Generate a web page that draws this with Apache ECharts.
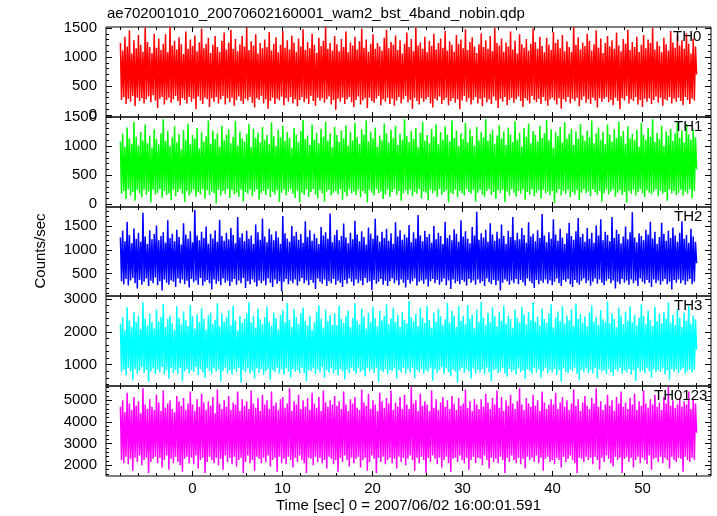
<!DOCTYPE html>
<html><head><meta charset="utf-8">
<script src="https://cdn.jsdelivr.net/npm/echarts@6/dist/echarts.min.js"></script>
<style>html,body{margin:0;padding:0;background:#fff}#c{width:717px;height:516px}</style>
</head><body><div id="c"></div>
<script>
const chartTitle = "ae702001010_20070602160001_wam2_bst_4band_nobin.qdp";
const xTitle = "Time [sec] 0 = 2007/06/02 16:00:01.591";
const yTitle = "Counts/sec";
const panelNames = ["TH0", "TH1", "TH2", "TH3", "TH0123"];
const tStart = -8, tEnd = 56;
const xRange = [-9.6, 57.6];
const xMajorTicks = [0, 10, 20, 30, 40, 50];
const xMinorStep = 2;

const yRanges = [[-34, 1517], [-46, 1500], [32, 1899], [350, 3091], [1507, 5660]];
const yMajorTicks = [
  [0, 500, 1000, 1500],
  [0, 500, 1000, 1500],
  [500, 1000, 1500],
  [1000, 2000, 3000],
  [2000, 3000, 4000, 5000]
];
const yMinorSteps = [100, 100, 100, 200, 200];

const th0 = [
1240,260,1110,310,1350,190,1180,280,1460,230,1060,330,1290,150,1150,300,
1380,240,1210,290,1090,200,1510,270,1260,320,1170,220,1070,340,1400,250,
1160,120,1320,280,1120,310,1230,180,1390,260,1080,300,1520,210,1200,270,
1280,330,1130,240,1340,170,1220,290,1050,260,1440,200,1140,310,1300,230,
1190,280,1370,100,1100,320,1250,250,1490,190,1150,300,1230,270,1330,140,
1070,290,1210,230,1360,310,1170,200,1090,270,1280,330,1420,180,1130,290,
1250,220,1470,300,1140,160,1310,260,1100,320,1220,240,1360,190,1180,280,
1500,250,1120,310,1270,210,1200,130,1390,290,1060,260,1240,330,1150,200,
1300,270,1170,110,1430,240,1110,300,1230,190,1340,280,1080,250,1210,320,
1450,170,1160,290,1290,230,1130,310,1370,200,1250,270,1090,150,1320,260,
1180,310,1480,220,1120,280,1260,190,1150,330,1400,240,1210,160,1070,300,
1330,250,1190,290,1280,210,1520,270,1140,320,1240,180,1110,260,1360,90,
1220,280,1100,230,1310,300,1170,190,1440,270,1080,310,1250,220,1200,140,
1350,260,1130,320,1270,180,1490,250,1160,290,1300,120,1090,300,1230,240,
1390,210,1140,280,1240,330,1180,170,1110,270,1330,230,1470,300,1150,190,
1260,280,1210,160,1370,250,1120,310,1290,200,1060,270,1230,330,1420,220,
1170,260,1310,110,1100,300,1510,240,1200,180,1250,290,1140,230,1350,270,
1080,310,1280,200,1190,130,1400,280,1130,250,1240,320,1320,190,1160,260,
1450,300,1110,170,1270,240,1210,290,1090,210,1380,270,1230,100,1300,250,
1150,330,1480,230,1120,290,1260,180,1340,260,1180,310,1070,200,1220,280,
1410,150,1170,300,1290,220,1140,270,1360,190,1100,320,1500,250,1240,120,
1200,280,1320,230,1090,310,1250,170,1180,260,1440,300,1130,210,1280,270,
1060,320,1390,240,1220,140,1160,290,1310,250,1110,200,1230,330,1490,260,
1260,220,1140,280,1350,190,1190,310,1080,240,1330,160,1210,270,1120,300,
1430,250,1240,180,1300,290,1150,110,1380,270,1100,230,1270,310,1170,200,
1090,280,1520,240,1210,300,1340,150,1130,260,1250,320,1190,210,1400,270,
1280,190,1110,300,1220,250,1460,130,1160,290,1320,230,1070,280,1240,310,
1360,220,1180,260,1290,170,1140,300,1420,240,1200,100,1100,290,1310,250,
1230,330,1470,200,1120,270,1260,240,1170,310,1350,180,1090,260,1210,140,
1380,280,1150,230,1300,290,1240,190,1500,260,1130,320,1270,210,1190,300,
1080,160,1330,270,1220,250,1110,310,1450,200,1250,280,1160,230,1370,300,
1200,240,1290,170,1140,310,1410,260,1230,190,1060,280,1320,250,1180,700];

const th1 = [
1080,180,1210,230,990,90,1320,260,1130,150,1040,210,1420,60,1160,240,
1010,190,1240,120,1100,250,1370,160,1050,220,1180,30,970,250,1290,170,
1120,200,1030,260,1220,110,1460,230,1090,160,1260,190,1000,70,1150,250,
1340,140,1060,210,1210,260,940,180,1280,40,1110,230,1390,150,1030,200,
1190,250,1130,130,1310,210,960,170,1240,260,1080,100,1170,240,1440,160,
1040,220,1270,190,1120,20,1220,250,990,150,1350,230,1100,180,1200,260,
1290,110,1050,240,1160,170,1430,200,1010,130,1250,250,1130,50,1080,210,
1210,180,1380,250,980,140,1300,220,1140,260,1230,80,1060,190,1330,230,
1110,160,1190,260,1030,120,1410,210,1170,170,1000,240,1280,40,1150,200,
1350,250,1090,150,1240,220,1140,260,970,180,1310,110,1200,230,1070,30,
1260,200,1450,160,1120,250,1180,130,1020,210,1370,260,1110,170,1230,100,
1050,240,1300,190,1160,50,1420,220,1090,250,1220,150,980,200,1330,230,
1190,170,1070,260,1270,80,1130,210,1360,140,1010,250,1240,190,1100,220,
1400,160,1150,250,1040,120,1290,230,1200,180,1440,30,1080,240,1250,200,
1130,150,1320,260,990,190,1180,220,1100,90,1390,170,1220,250,1060,130,
1280,210,1140,260,1350,160,1020,230,1210,60,1110,190,1460,240,1170,170,
1070,250,1260,140,1120,210,1310,180,980,260,1230,100,1420,220,1090,200,
1190,70,1050,250,1300,190,1160,230,1370,130,1030,260,1240,160,1110,210,
1340,240,1200,30,1080,200,1440,170,1140,250,1270,120,1000,230,1220,190,
1120,150,1400,260,1060,210,1290,180,1170,240,1010,50,1330,200,1100,250,
1240,170,1150,130,1460,230,1090,260,1210,160,1280,210,1040,90,1180,240,
1360,190,1130,250,1250,40,1020,220,1320,150,1200,260,1070,200,1430,130,
1110,230,1230,180,990,250,1310,80,1160,210,1390,170,1050,260,1260,140,
1190,200,1080,240,1350,100,1140,250,1220,190,1450,220,1100,160,1290,230,
970,20,1240,200,1170,260,1330,150,1060,230,1410,180,1130,250,1210,120,
1300,210,1020,170,1250,240,1120,70,1380,200,1180,260,1090,190,1270,220,
1150,140,1440,260,1050,210,1220,160,1320,230,1110,50,1240,190,1030,250,
1370,170,1200,220,1080,260,1290,130,1140,200,1420,240,1170,160,1260,210,
1040,30,1340,230,1130,180,1210,250,1100,150,1280,210,990,260,1400,190,
1190,120,1110,240,1310,200,1160,170,1460,220,1070,260,1230,140,1120,230,
1350,180,1000,210,1250,60,1180,250,1300,190,1090,230,1220,160,1410,200,
1140,250,1270,150,1060,220,1380,180,1200,260,1110,100,1290,230,1150,600];

const th2 = [
1260,340,1400,280,1180,390,1590,250,1310,360,1140,410,1450,300,1230,190,
1360,370,1170,270,1780,330,1280,400,1120,240,1410,350,1220,300,1330,420,
1510,260,1200,340,1290,150,1370,380,1150,310,1620,270,1250,360,1340,330,
1180,220,1420,400,1270,300,1110,380,1560,280,1320,350,1230,210,1390,390,
1160,320,1840,360,1300,270,1200,410,1380,250,1250,330,1490,370,1130,300,
1340,170,1240,380,1410,290,1170,340,1630,260,1290,400,1190,310,1360,350,
1220,240,1460,330,1310,390,1140,270,1690,360,1260,300,1350,410,1180,200,
1400,340,1230,280,1300,380,1120,320,1530,230,1370,360,1210,300,1660,350,
1280,260,1160,400,1440,310,1320,220,1200,380,1390,290,1260,340,1130,130,
1710,330,1350,390,1240,280,1170,350,1500,300,1290,380,1380,250,1210,340,
1330,410,1150,300,1600,360,1270,260,1410,370,1190,310,1340,180,1250,400,
1120,330,1480,290,1300,380,1370,240,1230,340,1760,300,1160,390,1310,270,
1420,350,1200,310,1290,220,1550,370,1260,290,1140,400,1360,330,1220,250,
1610,380,1320,300,1180,350,1390,260,1270,410,1110,310,1470,340,1340,160,
1230,370,1650,290,1300,330,1170,390,1380,270,1250,350,1440,240,1190,340,
1350,400,1130,300,1580,360,1280,260,1410,380,1210,310,1320,210,1260,370,
1520,290,1160,340,1370,400,1240,250,1730,330,1300,360,1180,290,1400,380,
1270,230,1330,340,1150,390,1500,300,1220,370,1360,270,1290,330,1120,400,
1590,260,1250,360,1310,180,1200,380,1430,300,1340,340,1170,280,1620,370,
1280,330,1390,250,1230,390,1140,310,1480,360,1300,270,1800,380,1210,300,
1350,340,1260,240,1420,400,1170,320,1560,280,1320,370,1190,260,1380,350,
1240,150,1530,310,1290,380,1130,340,1400,270,1270,360,1690,300,1200,390,
1360,280,1220,370,1460,320,1310,250,1150,400,1580,340,1280,300,1340,200,
1180,370,1410,280,1250,350,1750,310,1300,380,1160,290,1370,360,1230,260,
1640,330,1320,400,1190,300,1440,240,1260,370,1120,330,1350,390,1570,280,
1290,220,1210,370,1390,310,1670,270,1270,350,1340,400,1170,300,1460,360,
1230,250,1360,330,1150,400,1510,290,1300,380,1640,310,1200,260,1380,350,
1310,390,1180,300,1690,360,1250,190,1420,330,1330,280,1140,390,1280,310,
1490,360,1220,270,1370,380,1790,300,1260,350,1160,240,1350,400,1290,330,
1200,290,1420,370,1320,310,1590,220,1240,380,1380,300,1130,360,1270,270,
1570,340,1340,390,1190,280,1400,330,1250,170,1470,370,1300,310,1170,380,
1360,300,1600,360,1230,270,1310,340,1150,390,1440,280,1280,330,1170,720];

const th3 = [
2250,780,2450,850,2050,680,2750,900,2350,800,2150,520,2600,870,2300,720,
2500,820,2080,920,2900,750,2400,840,2200,480,2550,790,2300,880,2100,710,
2680,860,2320,770,2450,930,2850,700,2150,830,2400,570,2500,890,2260,750,
2050,840,2780,710,2420,900,2220,510,2620,800,2350,870,2180,730,2820,830,
2470,780,2100,920,2530,680,2300,860,2720,770,2400,600,2060,890,2500,810,
2590,720,2230,880,2370,790,2870,850,2160,490,2560,800,2310,910,2440,740,
2650,830,2200,700,2800,870,2340,780,2040,900,2480,460,2270,840,2400,760,
2560,880,2900,730,2280,810,2500,580,2130,890,2710,750,2380,860,2240,690,
2450,800,2760,870,2310,540,2190,830,2590,770,2420,910,2080,720,2520,850,
2660,700,2290,890,2880,790,2370,610,2150,860,2700,780,2460,830,2250,750,
2570,900,2740,740,2340,500,2200,840,2490,800,2060,880,2290,710,2620,860,
2810,770,2400,920,2120,600,2670,830,2330,760,2510,890,2210,730,2570,840,
2200,680,2790,870,2390,800,2260,550,2480,850,2650,740,2140,900,2430,810,
2870,720,2340,880,2230,770,2710,830,2460,640,2100,890,2590,790,2300,860,
2760,750,2410,910,2170,470,2630,830,2350,780,2480,870,2830,710,2230,840,
2410,800,2730,880,2300,580,2520,830,2150,770,2600,900,2370,730,2250,860,
2940,760,2440,910,2320,590,2550,840,2180,780,2740,870,2420,720,2270,830,
2800,790,2360,890,2120,510,2590,860,2310,750,2700,830,2470,920,2200,720,
2380,880,2880,770,2280,640,2640,850,2500,790,2150,460,2790,830,2340,900,
2490,750,2230,860,2820,800,2400,570,2530,880,2110,730,2680,840,2300,770,
2910,870,2430,710,2200,910,2580,770,2290,500,2750,830,2470,860,2160,750,
2610,790,2340,890,2800,730,2250,630,2500,870,2390,780,2120,840,2680,700,
2420,880,2280,770,2760,830,2530,560,2220,860,2600,790,2360,720,2900,890,
2310,760,2470,850,2190,610,2710,800,2390,900,2270,730,2550,840,2840,770,
2130,870,2440,690,2620,830,2320,480,2780,880,2250,780,2500,740,2350,850,
2690,800,2180,910,2860,720,2400,530,2540,840,2280,770,2470,880,2160,750,
2590,830,2800,730,2310,890,2450,590,2210,860,2660,790,2380,830,2300,710,
2920,870,2260,770,2560,660,2390,850,2140,790,2730,900,2490,720,2240,830,
2610,760,2340,870,2780,690,2290,840,2520,500,2190,880,2430,780,2840,830,
2480,740,2230,890,2650,800,2370,610,2170,860,2760,770,2320,840,2550,780,
2260,880,2600,710,2400,830,2890,540,2280,870,2510,790,2210,850,2690,750,
2420,830,2150,890,2580,720,2340,800,2800,860,2250,760,2490,840,2380,1450];

const th0123 = [
4700,2250,5000,2100,4450,2400,5350,2050,4850,2300,4550,1750,5150,2350,4750,2150,
4950,2450,4400,2000,5550,2250,4800,2350,4600,1650,5050,2150,4700,2300,4550,2400,
5250,2100,4900,2350,4500,1900,5450,2250,4650,2450,4850,1800,5000,2300,4600,2100,
4450,2400,5200,2150,4950,2000,4750,1700,5100,2300,4550,2400,4850,2100,5400,2350,
4800,2050,4500,2450,5050,1850,4700,2250,5300,2350,4900,1650,4550,2150,4950,2400,
4750,2250,5150,2100,4400,2350,5500,2000,4850,2300,4600,1800,5000,2450,4700,2150,
5200,2350,4550,2050,4900,2400,4800,1950,5400,2250,4500,2350,5050,1650,4750,2150,
4950,2450,4600,2100,5450,2250,4850,1750,4650,2400,5100,2300,4500,2100,5250,2350,
4800,2150,5000,2450,4600,1950,5400,2250,4750,2350,4900,1700,4550,2400,5050,2100,
5150,2300,4650,2050,4850,2400,5550,2250,4500,1900,4950,2350,4800,2150,5250,2450,
4600,2250,5000,2100,4700,1650,5100,2350,4550,2300,5350,2000,4850,2400,4650,2150,
5150,2350,4500,2100,5450,2250,4900,1850,4700,2400,5000,2300,4800,2050,5200,2250,
4750,1700,4950,2350,4600,2150,5400,2450,4800,2250,4500,1950,5050,2350,4850,2100,
5150,2300,4650,2400,4550,1900,5500,2250,4900,2350,4750,1750,5300,2150,4600,2450,
5000,2300,4800,1650,4500,2350,5350,2150,4950,2400,4650,2050,5100,2250,4850,2350,
5450,2100,4550,2300,4900,1850,4700,2400,5150,2150,4600,2350,5250,2000,4800,2300,
4600,2450,5600,2250,4850,1750,5000,2350,4500,2100,5300,2400,4750,2250,4950,1650,
4800,2350,4500,2150,5450,2450,4650,2300,5050,2050,4550,2350,4900,1900,5150,2250,
4700,2400,5000,2100,4600,1700,5200,2300,4850,2350,4550,2150,5100,2450,4750,2250,
4850,2100,5500,2350,4650,1800,4950,2250,4500,2400,5050,2100,4800,2350,4600,2300,
5050,2000,4700,2450,5300,2250,4900,1850,4600,2350,5100,2150,4800,2300,5450,2100,
4650,2400,5150,2250,4500,1650,5000,2350,4750,2150,5250,2450,4850,2250,4600,2100,
4950,2350,5550,2050,4800,2300,4550,1850,5100,2400,4850,2250,4700,2350,5250,2150,
4750,2450,5000,2100,4500,2350,5400,1750,4900,2300,4600,2400,4800,2150,5050,2250,
4800,2050,5350,2350,4600,2250,4900,1900,5150,2400,4700,2150,5000,2300,4550,2450,
4850,2250,5500,2100,4750,1650,5050,2350,4500,2300,4900,2150,5200,2400,4750,2250,
4600,2350,5100,2050,4850,2400,5550,2250,4700,1800,4950,2350,4550,2150,4800,2450,
5250,2300,4750,2100,5000,1950,4500,2400,5150,2250,4850,2350,5400,1650,4700,2300,
4900,2400,4600,2150,5100,2350,4800,1900,5300,2250,4550,2400,4950,2100,4750,2350,
5450,2250,4850,2050,4650,2450,5050,1800,4800,2300,5250,2350,4700,2150,4900,2400,
4550,2100,5150,2350,4850,2250,5600,1850,4750,2400,5000,2250,4650,2150,4800,2350,
5100,2300,4700,1700,4950,2400,4800,2250,5400,2150,4600,2350,5050,2250,4850,3500];

const seriesData = [th0, th1, th2, th3, th0123];
const colors = ["#ff0000", "#00ff00", "#0000ff", "#00ffff", "#ff00ff"];

const FONT = "Liberation Sans, Arial, Helvetica, sans-serif";
const gridTops = [27, 117, 207, 296, 386];
const gridBottomEdge = 476;
const LEFT = 106, WIDTH = 605;
const nameX = [673, 674, 674, 674, 654];

function steps(a, b, s) {
  const out = [];
  const start = Math.ceil(a / s) * s;
  for (let v = start; v <= b + 1e-9; v += s) out.push(Math.round(v * 1000) / 1000);
  return out;
}
const xMinorTicks = steps(xRange[0], xRange[1], xMinorStep);
const plain = v => String(v);

const grids = [], xAxes = [], yAxes = [], series = [], graphics = [];
for (let g = 0; g < 5; g++) {
  const top = gridTops[g];
  const h = (g < 4 ? gridTops[g + 1] : gridBottomEdge) - top;
  grids.push({left: LEFT, width: WIDTH, top: top, height: h, show: true,
    borderColor: "#000", borderWidth: 1, backgroundColor: "transparent"});
  const baseX = {gridIndex: g, type: "value", min: xRange[0], max: xRange[1],
    axisLine: {show: false, onZero: false}, splitLine: {show: false}};
  [["bottom", xMajorTicks, 5], ["bottom", xMinorTicks, 3], ["top", xMajorTicks, 5], ["top", xMinorTicks, 3]].forEach((d, k) => {
    const ax = Object.assign({}, baseX, {
      position: d[0],
      axisTick: {show: true, inside: true, length: d[2], customValues: d[1], lineStyle: {color: "#000", width: 1}},
      axisLabel: {show: false}
    });
    if (g === 4 && k === 0) {
      ax.axisLabel = {show: true, customValues: xMajorTicks, formatter: plain, fontSize: 15, color: "#000", margin: 5, fontFamily: FONT};
      ax.name = xTitle;
      ax.nameLocation = "middle";
      ax.nameGap = 22;
      ax.nameTextStyle = {fontSize: 15, color: "#000", fontFamily: FONT};
    }
    xAxes.push(ax);
  });
  const yr = yRanges[g];
  const yMinor = steps(yr[0], yr[1], yMinorSteps[g]);
  const baseY = {gridIndex: g, type: "value", min: yr[0], max: yr[1],
    axisLine: {show: false, onZero: false}, splitLine: {show: false}};
  [["left", yMajorTicks[g], 6], ["left", yMinor, 3], ["right", yMajorTicks[g], 6], ["right", yMinor, 3]].forEach((d, k) => {
    const ax = Object.assign({}, baseY, {
      position: d[0],
      axisTick: {show: true, inside: true, length: d[2], customValues: d[1], lineStyle: {color: "#000", width: 1}},
      axisLabel: {show: false}
    });
    if (k === 0) {
      ax.axisLabel = {show: true, customValues: yMajorTicks[g], formatter: plain, fontSize: 15, color: "#000", margin: 9, fontFamily: FONT};
    }
    yAxes.push(ax);
  });
  const data = seriesData[g].map((v, i, arr) => [tStart + (tEnd - tStart) * i / (arr.length - 1), v]);
  series.push({type: "line", name: panelNames[g], xAxisIndex: g * 4, yAxisIndex: g * 4,
    data: data, showSymbol: false, symbol: "none", animation: false, clip: true,
    sampling: null, progressive: 0,
    lineStyle: {color: colors[g], width: 1.5, join: "bevel"}, z: 1});
  graphics.push({type: "text", left: nameX[g], top: top + 2,
    style: {text: panelNames[g], font: "15px " + FONT, fill: "#000"}, z: 100});
}
graphics.push({type: "text", left: 107, top: 6, style: {text: chartTitle, font: "15px " + FONT, fill: "#000"}});
graphics.push({type: "text", x: 41, y: 251, rotation: Math.PI / 2,
  style: {text: yTitle, font: "15px " + FONT, fill: "#000", align: "center", verticalAlign: "middle"}});

const chart = echarts.init(document.getElementById("c"), null, {renderer: "canvas"});
chart.setOption({
  backgroundColor: "#fff",
  animation: false,
  grid: grids, xAxis: xAxes, yAxis: yAxes, series: series, graphic: graphics
});
</script></body></html>
